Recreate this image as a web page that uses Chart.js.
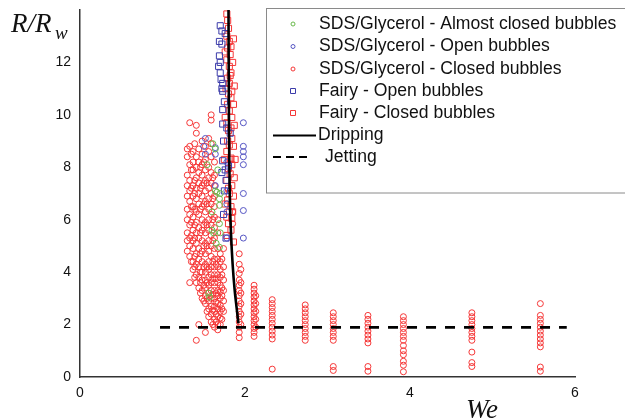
<!DOCTYPE html>
<html lang="en">
<head>
<meta charset="UTF-8">
<title>R/Rw vs We</title>
<script src="https://cdn.jsdelivr.net/npm/chart.js"></script>
<style>
  html, body { margin: 0; padding: 0; background: #fff; }
  #wrap { width: 625px; height: 420px; }
</style>
</head>
<body>
<div id="wrap"><canvas id="myChart" width="625" height="420"></canvas></div>
<script>
// series labels
let seriesNames = [
  "SDS/Glycerol - Almost closed bubbles",
  "SDS/Glycerol - Open bubbles",
  "SDS/Glycerol - Closed bubbles",
  "Fairy - Open bubbles",
  "Fairy - Closed bubbles",
  "Dripping",
  "Jetting"
];
let xTicks = [0, 2, 4, 6];
let yTicks = [0, 2, 4, 6, 8, 10, 12];

// SDS/Glycerol almost closed (green circles) [We, R/Rw]
let sdsAlmost = [
  [1.61,8.9],[1.64,8.7],[1.54,8.1],[1.67,7.9],[1.64,7.1],[1.70,7.0],[1.66,7.05],
  [1.69,6.8],[1.69,6.55],[1.60,6.3],[1.69,5.85],[1.62,5.5],[1.70,5.5],[1.60,5.6],
  [1.65,5.1],[1.69,4.95],[1.56,3.2],[1.57,3.05]
];

// SDS/Glycerol open (blue circles)
let sdsOpen = [
  [1.52,9.1],[1.50,8.8],[1.52,8.5],[1.64,8.75],[1.64,8.5],[1.78,8.2],[1.64,7.3],
  [1.78,7.1],[1.78,6.6],[1.78,6.3],[1.78,5.3],[1.98,9.7],[1.98,8.8],[1.98,8.6],
  [1.98,8.4],[1.98,8.1],[1.98,7.0],[1.98,6.35],[1.98,5.3]
];

// SDS/Glycerol closed (red circles), given column by column: [We, [R/Rw ...]]
let sdsClosedCols = [
  [1.30, [8.7, 8.4, 7.7, 7.3, 6.9, 6.4, 6.0, 5.5, 5.2, 4.8]],
  [1.33, [9.7, 8.8, 8.1, 7.5, 7.1, 6.7, 6.2, 5.8, 5.3, 5.0, 4.6, 3.6]],
  [1.35, [8.5, 7.9, 7.2, 6.5, 5.9, 5.4, 4.4]],
  [1.37, [8.6, 8.2, 7.9, 7.3, 6.9, 6.5, 6.1, 5.6, 5.2, 4.9, 4.4, 4.1]],
  [1.39, [8.9, 7.5, 7.0, 6.4, 5.8, 5.3, 4.6, 4.2, 3.8]],
  [1.41, [9.6, 9.3, 8.4, 8.0, 7.6, 7.2, 6.8, 6.3, 5.9, 5.5, 5.1, 4.7, 4.3, 3.9, 3.6, 1.4]],
  [1.44, [8.7, 8.2, 7.8, 7.4, 7.0, 6.6, 6.2, 5.7, 5.3, 4.9, 4.5, 4.2, 3.8, 3.4, 2.0]],
  [1.46, [8.0, 7.2, 6.4, 5.5, 4.7, 4.0, 3.6, 3.2]],
  [1.48, [9.0, 8.5, 8.1, 7.7, 7.3, 6.9, 6.5, 6.0, 5.6, 5.2, 4.8, 4.4, 4.0, 3.7, 3.3, 3.0]],
  [1.50, [8.2, 7.4, 6.6, 5.8, 5.0, 4.2, 3.5, 2.9]],
  [1.52, [8.8, 8.3, 7.9, 7.5, 7.1, 6.7, 6.3, 5.9, 5.5, 5.1, 4.7, 4.3, 4.0, 3.7, 3.4, 3.1, 2.8, 1.7]],
  [1.54, [7.4, 6.6, 5.8, 5.0, 4.2, 3.6, 3.0, 2.5]],
  [1.56, [9.1, 8.6, 8.0, 7.6, 7.2, 6.8, 6.4, 6.0, 5.6, 5.2, 4.8, 4.4, 4.1, 3.8, 3.5, 3.2, 2.9, 2.6, 2.3]],
  [1.59, [10.0, 9.8, 8.9, 8.4, 7.8, 7.4, 7.0, 6.6, 6.2, 5.8, 5.4, 5.0, 4.6, 4.2, 3.9, 3.6, 3.3, 3.0, 2.7, 2.4, 2.1]],
  [1.61, [7.6, 6.8, 6.0, 5.2, 4.4, 3.75, 3.15, 2.55, 2.0]],
  [1.63, [8.2, 7.7, 7.3, 6.9, 6.5, 6.1, 5.7, 5.3, 4.9, 4.5, 4.2, 3.9, 3.6, 3.3, 3.0, 2.7, 2.5, 2.2, 1.9]],
  [1.65, [4.3, 3.75, 3.2, 2.85, 2.4, 2.1]],
  [1.67, [6.0, 5.5, 4.9, 4.5, 4.2, 3.9, 3.6, 3.3, 3.1, 2.8, 2.6, 2.3, 2.0, 1.8]],
  [1.70, [4.7, 4.4, 4.1, 3.8, 3.5, 3.25, 3.0, 2.75, 2.5, 2.25, 2.0]],
  [1.72, [4.5, 3.9, 3.4, 3.1, 2.6, 2.2]],
  [1.74, [4.9, 4.2, 3.7, 3.3, 2.9, 2.5]],
  [1.85, [6.3, 5.85]],
  [1.93, [4.7, 4.3, 3.95, 3.7, 3.5, 3.3, 3.1, 2.9, 2.7, 2.5, 2.3, 2.1, 1.9, 1.7, 1.5]],
  [1.95, [4.1, 3.6, 3.2, 2.8, 2.4, 2.0]],
  [2.11, [3.5, 3.35, 3.2, 3.05, 2.9, 2.75, 2.6, 2.45, 2.3, 2.15, 2.0, 1.85, 1.7, 1.55]],
  [2.13, [3.1, 2.8, 2.5, 2.2, 1.9]],
  [2.33, [2.95, 2.8, 2.65, 2.5, 2.35, 2.2, 2.05, 1.9, 1.75, 1.6, 1.45, 0.3]],
  [2.73, [2.75, 2.6, 2.45, 2.3, 2.15, 2.0, 1.85, 1.7, 1.55, 1.4]],
  [3.07, [2.45, 2.3, 2.15, 2.0, 1.85, 1.7, 1.55, 1.4, 0.4, 0.25]],
  [3.49, [2.35, 2.2, 2.05, 1.9, 1.75, 1.6, 1.45, 1.3, 0.4, 0.22]],
  [3.92, [2.3, 2.15, 2.0, 1.85, 1.7, 1.55, 1.4, 1.2, 1.0, 0.85, 0.6, 0.45, 0.2]],
  [4.75, [2.45, 2.3, 2.15, 2.0, 1.85, 1.7, 1.55, 1.4, 0.95, 0.55, 0.4]],
  [5.58, [2.8, 2.35, 2.2, 2.05, 1.9, 1.75, 1.6, 1.45, 1.3, 1.15, 0.38, 0.22]]
];

// Fairy open (blue squares)
let fairyOpen = [
  [1.70,13.4],[1.72,13.2],[1.76,13.1],[1.69,12.8],[1.72,12.7],[1.69,12.25],[1.68,11.85],
  [1.70,11.6],[1.71,11.35],[1.73,11.2],[1.73,10.9],[1.75,10.5],[1.73,10.2],[1.73,9.65],
  [1.78,9.5],[1.82,9.3],[1.74,9.0],[1.73,8.25],[1.80,8.05],[1.76,7.9],[1.72,7.8],
  [1.77,7.5],[1.75,7.1],[1.77,5.3],[1.74,6.2],[1.70,12.0],[1.72,11.0]
];

// Fairy closed (red squares)
let fairyClosed = [
  [1.78,13.85],[1.79,13.6],[1.80,13.3],[1.78,13.0],[1.81,12.8],[1.79,12.55],[1.82,12.3],
  [1.78,12.1],[1.81,11.85],[1.83,11.6],[1.79,11.4],[1.81,11.2],[1.84,10.9],[1.83,10.65],
  [1.79,10.4],[1.81,10.15],[1.84,9.9],[1.78,9.7],[1.80,9.4],[1.84,9.1],[1.81,8.85],
  [1.78,8.6],[1.83,8.35],[1.84,8.1],[1.80,7.95],[1.82,7.75],[1.78,7.5],[1.84,7.3],
  [1.81,7.0],[1.79,6.75],[1.83,6.5],[1.81,6.3],[1.84,6.05],[1.80,5.85],[1.83,5.6],
  [1.78,5.4],[1.86,5.15],[1.76,6.6],[1.75,8.3],[1.76,9.9],[1.77,11.0],[1.76,12.4],
  [1.86,12.9],[1.85,12.0],[1.87,11.1],[1.86,10.4],[1.87,9.6],[1.86,8.8],[1.88,8.3],
  [1.87,7.6],[1.86,6.9],[1.85,6.3],[1.83,12.6],[1.82,11.5],[1.80,10.8],[1.83,9.5],
  [1.79,9.0],[1.82,8.3],[1.80,7.2],[1.78,6.1]
];

// model curves
let dripX = [1.80, 1.805, 1.815, 1.83, 1.85, 1.875, 1.90, 1.92];
let dripY = [14, 10, 7, 5.5, 4.3, 3.3, 2.6, 2.05];
let jetX = [0.97, 5.9];
let jetY = [1.89, 1.89];

const RED = "rgb(245,55,55)";
const BLUE = "rgb(85,85,195)";
const DBLUE = "rgb(60,60,170)";
const GREEN = "rgb(105,185,75)";

function toPts(arr){ return arr.map(p => ({x: p[0], y: p[1]})); }
let sdsClosed = [];
for (let c of sdsClosedCols){
    for (let y of c[1]) sdsClosed.push({x: c[0], y: y});
}
let drip = dripX.map((x, i) => ({x: x, y: dripY[i]}));
let jet = jetX.map((x, i) => ({x: x, y: jetY[i]}));

function markerSet(label, data, color, style){
    return {
        label: label, data: data, showLine: false,
        pointStyle: style, pointRadius: style == 'rect' ? 4.3 : 3,
        pointBorderWidth: 1, borderColor: color,
        backgroundColor: 'rgba(0,0,0,0)', pointBackgroundColor: 'rgba(0,0,0,0)'
    };
}

// legend drawn inside the plot like the original
const boxLegend = {
    id: 'boxLegend',
    afterDraw(chart){
        const ctx = chart.ctx;
        ctx.save();
        ctx.strokeStyle = '#8a8a8a';
        ctx.lineWidth = 1;
        ctx.strokeRect(266.5, 8.5, 400, 184.5);
        ctx.fillStyle = '#fff';
        ctx.fillRect(267, 9, 398, 183);
        const rows = [24, 46.5, 69, 91, 113, 135.5, 157];
        const styles = [['c', GREEN], ['c', BLUE], ['c', RED], ['r', DBLUE], ['r', RED]];
        ctx.font = '17.6px "Liberation Sans", Arial, sans-serif';
        ctx.textBaseline = 'middle';
        for (let i = 0; i < 7; i++){
            const y = rows[i];
            if (i < 5){
                ctx.lineWidth = 1;
                ctx.strokeStyle = styles[i][1];
                ctx.beginPath();
                if (styles[i][0] == 'c') ctx.arc(293, y, 2, 0, Math.PI * 2);
                else ctx.rect(290.5, y - 2.5, 5, 5);
                ctx.stroke();
                ctx.fillStyle = '#111';
                ctx.fillText(seriesNames[i], 319, y);
            } else if (i == 5){
                ctx.strokeStyle = '#000'; ctx.lineWidth = 2;
                ctx.beginPath(); ctx.moveTo(273, y); ctx.lineTo(316, y); ctx.stroke();
                ctx.fillStyle = '#111';
                ctx.fillText(seriesNames[i], 318, y);
            } else {
                ctx.strokeStyle = '#000'; ctx.lineWidth = 2;
                ctx.setLineDash([8, 5]);
                ctx.beginPath(); ctx.moveTo(273, y); ctx.lineTo(307, y); ctx.stroke();
                ctx.setLineDash([]);
                ctx.fillStyle = '#111';
                ctx.fillText(seriesNames[i], 325, y);
            }
        }
        // axis titles
        ctx.fillStyle = '#111';
        ctx.textBaseline = 'alphabetic';
        ctx.font = 'italic 27px "Liberation Serif", "Times New Roman", serif';
        ctx.fillText('R/R', 11, 32);
        ctx.font = 'italic 19px "Liberation Serif", "Times New Roman", serif';
        ctx.fillText('w', 55, 39);
        ctx.font = 'italic 27px "Liberation Serif", "Times New Roman", serif';
        ctx.fillText('We', 466, 418);
        ctx.restore();
    }
};

let ctx = document.getElementById("myChart");
let configs = {
    type: 'scatter',
    data: {
        datasets: [
            { label: seriesNames[5], data: drip, showLine: true, pointRadius: 0,
              borderColor: '#000', borderWidth: 2.6, tension: 0.3, fill: false },
            { label: seriesNames[6], data: jet, showLine: true, pointRadius: 0,
              borderColor: '#000', borderWidth: 2.8, borderDash: [10, 9], fill: false },
            markerSet(seriesNames[0], toPts(sdsAlmost), GREEN, 'circle'),
            markerSet(seriesNames[1], toPts(sdsOpen), BLUE, 'circle'),
            markerSet(seriesNames[3], toPts(fairyOpen), DBLUE, 'rect'),
            markerSet(seriesNames[4], toPts(fairyClosed), RED, 'rect'),
            markerSet(seriesNames[2], sdsClosed, RED, 'circle')
        ]
    },
    options: {
        responsive: false,
        animation: false,
        layout: { padding: { top: 10, right: 50, left: 0, bottom: 0 } },
        plugins: { legend: { display: false }, tooltip: { enabled: false } },
        scales: {
            x: {
                type: 'linear', min: 0, max: 6,
                afterBuildTicks: s => { s.ticks = xTicks.map(v => ({value: v})); },
                afterFit: s => { s.height = 43; s.paddingLeft = 0; s.paddingRight = 0; },
                grid: { display: false, drawTicks: false },
                border: { display: true, color: '#333', width: 1.5 },
                ticks: { padding: 8, color: '#111', font: { family: '"Liberation Sans", Arial', size: 14 } }
            },
            y: {
                type: 'linear', min: 0, max: 14,
                afterBuildTicks: s => { s.ticks = yTicks.map(v => ({value: v})); },
                afterFit: s => { s.width = 80; s.paddingTop = 0; s.paddingBottom = 0; },
                grid: { display: false, drawTicks: false },
                border: { display: true, color: '#333', width: 1.5 },
                ticks: { padding: 9, color: '#111', font: { family: '"Liberation Sans", Arial', size: 14 } }
            }
        }
    },
    plugins: [boxLegend]
};
let myChart = new Chart(ctx, configs);
</script>
</body>
</html>
